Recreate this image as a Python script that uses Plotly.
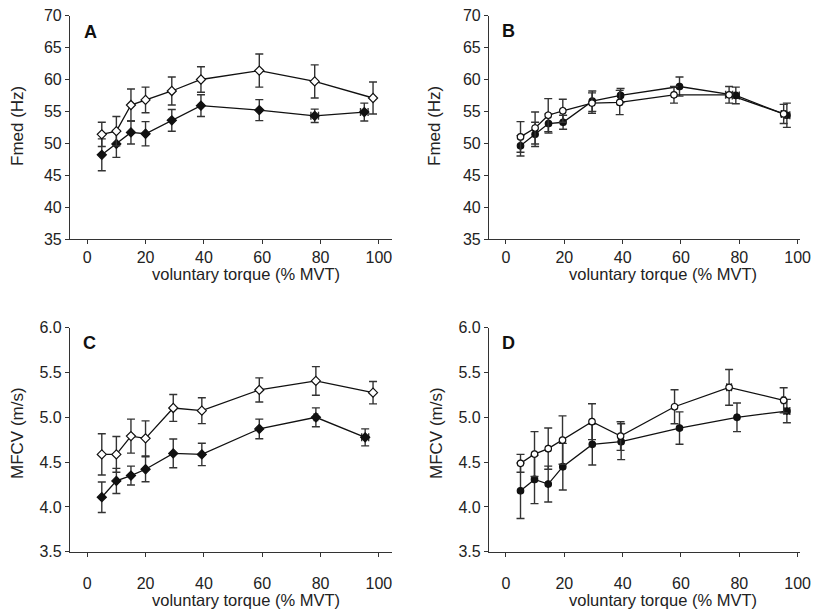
import plotly.graph_objects as go

W, H = 816, 610

# ---------------- data ----------------
A_open_x = [5, 10, 15, 20, 29, 39, 59, 78, 98]
A_open_y = [51.4, 51.9, 56.0, 56.8, 58.2, 60.0, 61.4, 59.7, 57.1]
A_open_err = [1.9, 2.3, 2.5, 2.0, 2.2, 2.0, 2.6, 2.6, 2.5]
A_open_xerr = [0, 0, 0, 0, 0, 0, 0, 0, 0]
A_fill_x = [5, 10, 15, 20, 29, 39, 59, 78, 95]
A_fill_y = [48.2, 49.9, 51.7, 51.5, 53.6, 55.9, 55.2, 54.3, 54.9]
A_fill_err = [2.5, 2.1, 1.8, 1.9, 1.7, 1.7, 1.65, 1.05, 1.4]
A_fill_xerr = [0, 0, 0, 0, 0, 0, 0, 1.3, 1.3]

B_open_x = [5, 10, 14.5, 19.5, 29.5, 39, 57.6, 76.5, 95.2]
B_open_y = [51.0, 52.4, 54.4, 55.1, 56.3, 56.4, 57.6, 57.6, 54.6]
B_open_err = [2.4, 2.5, 2.6, 1.8, 1.6, 1.9, 1.3, 1.3, 1.5]
B_open_xerr = [0, 0, 0, 0, 0, 0, 0, 1.2, 0.8]
B_fill_x = [5, 10, 14.6, 19.6, 29.6, 39.3, 59.5, 78.8, 96.3]
B_fill_y = [49.6, 51.4, 53.1, 53.3, 56.6, 57.5, 58.9, 57.5, 54.4]
B_fill_err = [1.6, 1.9, 1.5, 1.1, 1.6, 1.1, 1.5, 1.3, 1.9]
B_fill_xerr = [0, 0, 0, 0, 0, 0, 0, 1.2, 1.0]

C_open_x = [5, 10, 15, 20, 29.5, 39.3, 59, 78.4, 98]
C_open_y = [4.586, 4.586, 4.79, 4.765, 5.104, 5.074, 5.305, 5.406, 5.275]
C_open_err = [0.23, 0.2, 0.19, 0.195, 0.15, 0.145, 0.135, 0.16, 0.125]
C_open_xerr = [0, 0, 0, 0, 0, 0, 0, 0, 0]
C_fill_x = [5, 10, 15, 20, 29.5, 39.3, 59, 78.4, 95.3]
C_fill_y = [4.108, 4.29, 4.35, 4.42, 4.597, 4.586, 4.87, 5.0, 4.776]
C_fill_err = [0.17, 0.14, 0.105, 0.14, 0.16, 0.125, 0.11, 0.105, 0.095]
C_fill_xerr = [0, 0, 0, 0, 0, 0, 0, 0.6, 1.2]

D_open_x = [5, 9.8, 14.5, 19.4, 29.5, 39.3, 57.8, 76.5, 95.2]
D_open_y = [4.486, 4.59, 4.65, 4.746, 4.951, 4.791, 5.118, 5.334, 5.19]
D_open_err = [0.1, 0.25, 0.23, 0.27, 0.2, 0.16, 0.19, 0.2, 0.14]
D_open_xerr = [0, 0, 0, 0, 0, 0, 0, 0.8, 0.5]
D_fill_x = [5, 9.8, 14.5, 19.5, 29.6, 39.5, 59.5, 79.2, 96.3]
D_fill_y = [4.18, 4.307, 4.255, 4.449, 4.698, 4.728, 4.88, 5.0, 5.07]
D_fill_err = [0.31, 0.27, 0.2, 0.26, 0.23, 0.2, 0.18, 0.16, 0.13]
D_fill_xerr = [0, 0, 0, 0, 0, 0, 0, 0, 1.0]

x_ticks = [0, 20, 40, 60, 80, 100]
fmed_ticks = [35, 40, 45, 50, 55, 60, 65, 70]
mfcv_ticks = [3.5, 4.0, 4.5, 5.0, 5.5, 6.0]
x_title = "voluntary torque (% MVT)"

FONT = "Liberation Sans, Arial, sans-serif"
INK = "#333333"
TXT = "#222222"

panels = [
    dict(name="A", sym="diamond", xa="x", ya="y",
         open=(A_open_x, A_open_y, A_open_err, A_open_xerr),
         fill=(A_fill_x, A_fill_y, A_fill_err, A_fill_xerr)),
    dict(name="B", sym="circle", xa="x2", ya="y2",
         open=(B_open_x, B_open_y, B_open_err, B_open_xerr),
         fill=(B_fill_x, B_fill_y, B_fill_err, B_fill_xerr)),
    dict(name="C", sym="diamond", xa="x3", ya="y3",
         open=(C_open_x, C_open_y, C_open_err, C_open_xerr),
         fill=(C_fill_x, C_fill_y, C_fill_err, C_fill_xerr)),
    dict(name="D", sym="circle", xa="x4", ya="y4",
         open=(D_open_x, D_open_y, D_open_err, D_open_xerr),
         fill=(D_fill_x, D_fill_y, D_fill_err, D_fill_xerr)),
]

fig = go.Figure()
for p in panels:
    size = 7 if p["sym"] == "diamond" else 6.5
    for kind in ("fill", "open"):
        xs, ys, ey, ex = p[kind]
        fig.add_trace(go.Scatter(
            x=xs, y=ys, xaxis=p["xa"], yaxis=p["ya"],
            mode="lines+markers",
            line=dict(color="#111111", width=1.3),
            marker=dict(symbol=p["sym"], size=size,
                        color="#111111" if kind == "fill" else "white",
                        line=dict(color="#111111", width=1.2)),
            error_y=dict(type="data", array=ey, visible=True,
                         color=INK, thickness=1.4, width=4),
            error_x=dict(type="data", array=ex, visible=True,
                         color=INK, thickness=1.4, width=4),
            showlegend=False, hoverinfo="skip",
        ))


def px_x(v):
    return v / W


def px_y(v):
    return 1 - v / H


xdom_left = [px_x(70), px_x(392)]
xdom_right = [px_x(489), px_x(800)]
ydom_top = [px_y(239), px_y(15.7)]
ydom_bot = [px_y(551.7), px_y(327.7)]

axis_common = dict(
    showgrid=False, zeroline=False, showline=True, linecolor=INK, linewidth=1.2,
    ticks="outside", ticklen=4, tickwidth=1.2, tickcolor=INK, automargin=False,
    ticklabeloverflow="allow",
    tickfont=dict(family=FONT, size=16, color=TXT),
)

layout = dict(
    width=W, height=H, margin=dict(l=0, r=0, t=0, b=0, pad=0, autoexpand=False),
    paper_bgcolor="white", plot_bgcolor="white", showlegend=False,
    font=dict(family=FONT, color=TXT),
    xaxis=dict(domain=xdom_left, range=[-5.9, 104.5], tickvals=x_ticks, anchor="y", **axis_common),
    yaxis=dict(domain=ydom_top, range=[35, 70], tickvals=fmed_ticks, anchor="x", **axis_common),
    xaxis2=dict(domain=xdom_right, range=[-5.8, 100.8], tickvals=x_ticks, anchor="y2", **axis_common),
    yaxis2=dict(domain=ydom_top, range=[35, 70], tickvals=fmed_ticks, anchor="x2", **axis_common),
    xaxis3=dict(domain=xdom_left, range=[-5.9, 104.5], tickvals=x_ticks, anchor="y3",
                ticklabelstandoff=13, **axis_common),
    yaxis3=dict(domain=ydom_bot, range=[3.5, 6.0], tickvals=mfcv_ticks, tickformat=".1f",
                anchor="x3", **axis_common),
    xaxis4=dict(domain=xdom_right, range=[-5.8, 100.8], tickvals=x_ticks, anchor="y4",
                ticklabelstandoff=13, **axis_common),
    yaxis4=dict(domain=ydom_bot, range=[3.5, 6.0], tickvals=mfcv_ticks, tickformat=".1f",
                anchor="x4", **axis_common),
)
fig.update_layout(**layout)

ann = []
# x axis titles
for cx, cy in [(246, 274), (663, 274), (246, 600), (663, 600)]:
    ann.append(dict(text=x_title, x=px_x(cx), y=px_y(cy), xref="paper", yref="paper",
                    showarrow=False, xanchor="center", yanchor="middle",
                    font=dict(family=FONT, size=16.5, color=TXT)))
# y axis titles
for txt, cx, cy in [("Fmed (Hz)", 18, 126), ("Fmed (Hz)", 435, 126),
                    ("MFCV (m/s)", 17, 433), ("MFCV (m/s)", 436, 433)]:
    ann.append(dict(text=txt, x=px_x(cx), y=px_y(cy), xref="paper", yref="paper",
                    showarrow=False, xanchor="center", yanchor="middle", textangle=-90,
                    font=dict(family=FONT, size=17, color=TXT)))
# panel letters
for txt, cx, cy in [("A", 90, 32), ("B", 508, 31), ("C", 89, 343), ("D", 508, 343)]:
    ann.append(dict(text="<b>%s</b>" % txt, x=px_x(cx), y=px_y(cy), xref="paper", yref="paper",
                    showarrow=False, xanchor="center", yanchor="middle",
                    font=dict(family=FONT, size=18, color="#111111")))
fig.update_layout(annotations=ann)

# remove the default page margin so the 816x610 figure fills the window exactly
fig.write_html(
    "out.html",
    config={"displayModeBar": False},
    post_script="document.body.style.margin='0';document.body.style.overflow='hidden';",
)
